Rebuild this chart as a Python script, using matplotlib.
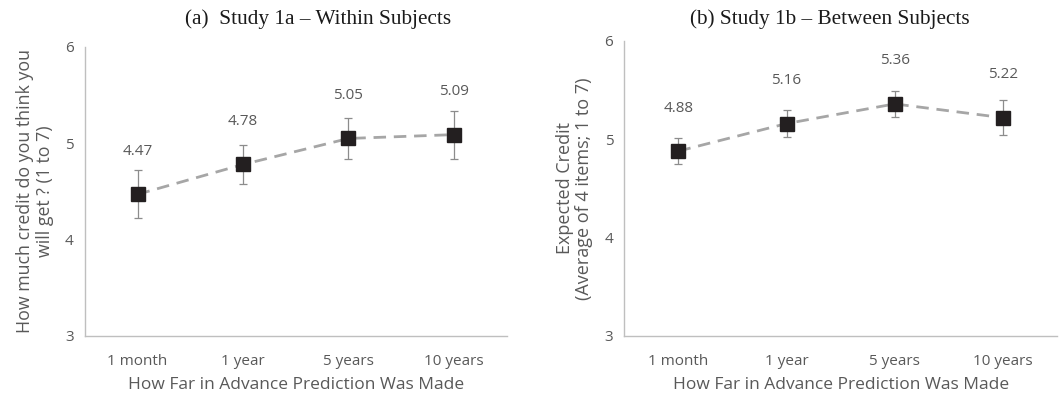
import matplotlib
matplotlib.use("Agg")
import matplotlib.pyplot as plt
import numpy as np

categories = ["1 month", "1 year", "5 years", "10 years"]
means_a = [4.47, 4.78, 5.05, 5.09]
err_a = [0.25, 0.20, 0.21, 0.25]
means_b = [4.88, 5.16, 5.36, 5.22]
err_b = [0.13, 0.14, 0.13, 0.18]
yticks = [3, 4, 5, 6]
title_a = "(a)  Study 1a \u2013 Within Subjects"
title_b = "(b) Study 1b \u2013 Between Subjects"
ylabel_a = "How much credit do you think you\nwill get ? (1 to 7)"
ylabel_b = "Expected Credit\n(Average of 4 items; 1 to 7)"
xlabel = "How Far in Advance Prediction Was Made"

txt = "#595959"
sans = ["Open Sans", "DejaVu Sans"]
plt.rcParams['font.family'] = sans

fig = plt.figure(figsize=(10.6, 3.98), dpi=100)
ax1 = fig.add_axes([0.080, 0.156, 0.398, 0.726])
ax2 = fig.add_axes([0.589, 0.156, 0.408, 0.741])

def draw(ax, means, errs, ylabel, ylsize, ylpad):
    x = np.arange(len(categories))
    ax.plot(x, means, ls=(0, (4.5, 2.8)), color="#A6A6A6", lw=2.0, zorder=1)
    ax.errorbar(x, means, yerr=errs, fmt='none', ecolor="#8C8C8C", elinewidth=0.9,
                capsize=3, capthick=0.9, zorder=2)
    ax.plot(x, means, ls='none', marker='s', ms=10.5, color="#231F20", zorder=3)
    for xi, m in zip(x, means):
        ax.annotate(f"{m:.2f}", (xi, m), xytext=(0, 31), textcoords="offset points",
                    ha='center', va='center', fontsize=11, color=txt)
    ax.set_xlim(-0.5, len(categories) - 0.5)
    ax.set_ylim(3, 6)
    ax.set_yticks(yticks)
    ax.set_xticks(x)
    ax.set_xticklabels(categories)
    ax.tick_params(length=0, labelsize=11, labelcolor=txt)
    ax.tick_params(axis='x', pad=13)
    ax.tick_params(axis='y', pad=8)
    for s in ['top', 'right']:
        ax.spines[s].set_visible(False)
    for s in ['left', 'bottom']:
        ax.spines[s].set_color("#BFBFBF")
        ax.spines[s].set_linewidth(1.0)
    ax.set_xlabel(xlabel, fontsize=12.5, color=txt, labelpad=6)
    ax.set_ylabel(ylabel, fontsize=ylsize, color=txt, labelpad=ylpad, linespacing=1.1)

draw(ax1, means_a, err_a, ylabel_a, 12.8, 8)
draw(ax2, means_b, err_b, ylabel_b, 13, 8)

serif = ["Liberation Serif", "DejaVu Serif"]
fig.text(0.300, 0.953, title_a, ha='center', va='center', fontsize=15.3,
         family=serif, color="#1a1a1a")
fig.text(0.783, 0.953, title_b, ha='center', va='center', fontsize=15.3,
         family=serif, color="#1a1a1a")

fig.savefig("out.png", dpi=100, facecolor="white")
